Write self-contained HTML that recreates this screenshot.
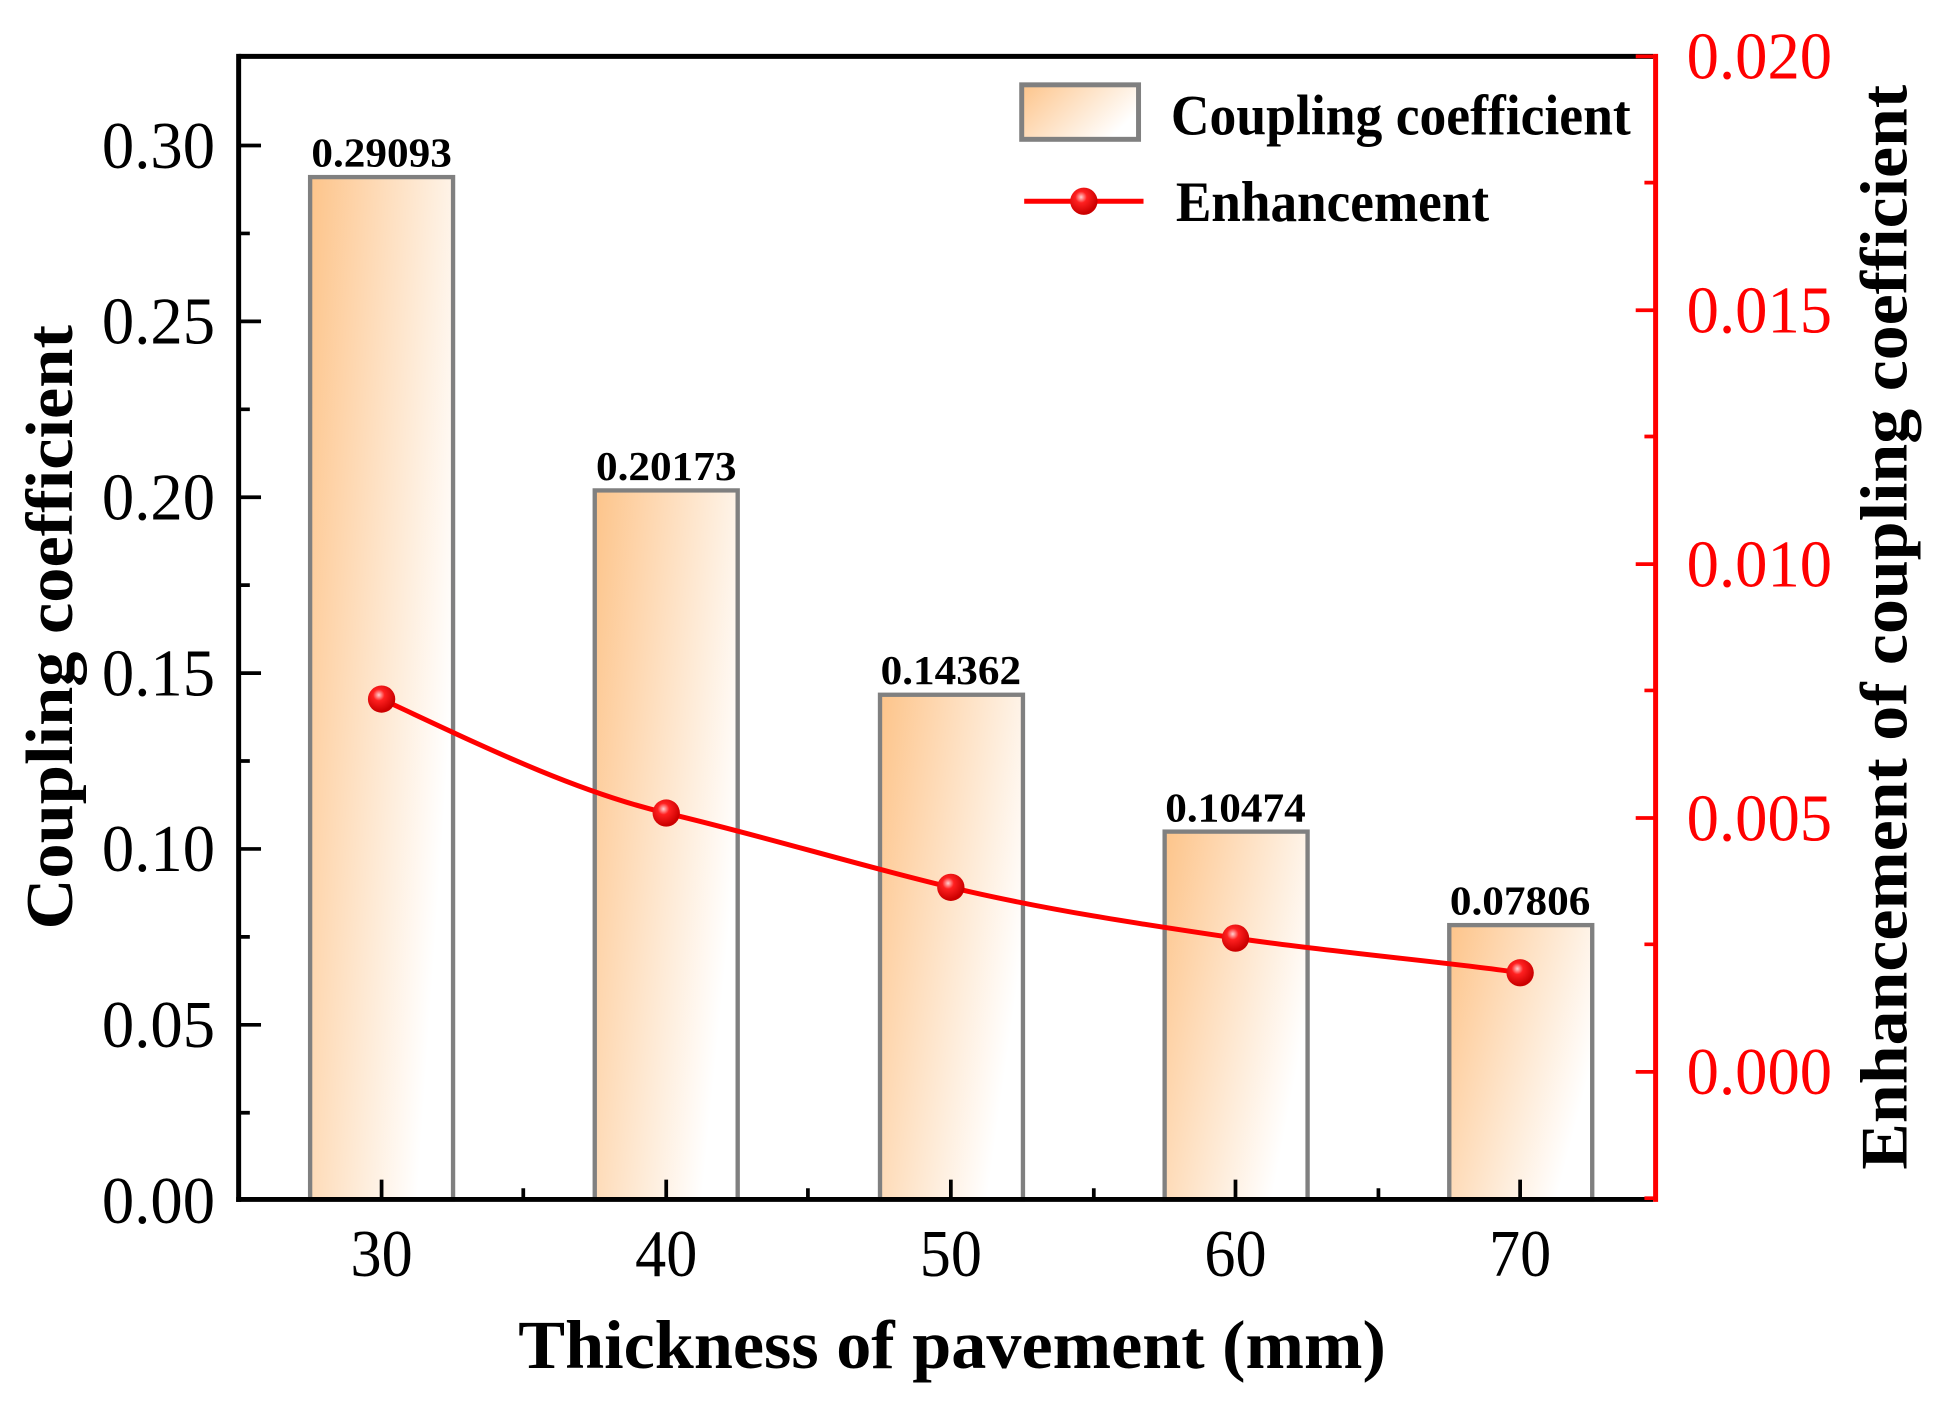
<!DOCTYPE html>
<html><head><meta charset="utf-8"><style>html,body{margin:0;padding:0;background:#fff}svg{display:block}</style></head>
<body>
<svg width="1939" height="1404" viewBox="0 0 1560 1129.6" preserveAspectRatio="none" xmlns="http://www.w3.org/2000/svg" font-family="'Liberation Serif', serif">
<defs>
<linearGradient id="g" x1="0" y1="0" x2="1" y2="0.5">
<stop offset="0" stop-color="#fdc48a"/><stop offset="1" stop-color="#ffffff"/>
</linearGradient>
<radialGradient id="m" cx="0.4" cy="0.35" r="0.6">
<stop offset="0" stop-color="#ffd0d0"/><stop offset="0.35" stop-color="#ff2020"/><stop offset="1" stop-color="#cc0000"/>
</radialGradient>
</defs>
<g transform="translate(0,-1.5) scale(1,0.9964)">
<g stroke="#808080" stroke-width="3.5" fill="url(#g)">
<rect x="249.5" y="144.5" width="115" height="825.5"/>
<rect x="478.5" y="397.5" width="115" height="572.5"/>
<rect x="708" y="562.5" width="115" height="407.5"/>
<rect x="937" y="673" width="115" height="297"/>
<rect x="1166" y="748.5" width="115" height="221.5"/>
</g>
<g font-weight="bold" font-size="33" text-anchor="middle">
<text x="307" y="136" textLength="113" lengthAdjust="spacingAndGlyphs">0.29093</text>
<text x="536" y="389" textLength="113" lengthAdjust="spacingAndGlyphs">0.20173</text>
<text x="765" y="554" textLength="113" lengthAdjust="spacingAndGlyphs">0.14362</text>
<text x="994" y="665" textLength="113" lengthAdjust="spacingAndGlyphs">0.10474</text>
<text x="1223" y="740" textLength="113" lengthAdjust="spacingAndGlyphs">0.07806</text>
</g>
<g stroke="#000" stroke-width="4" fill="none">
<line x1="192" y1="47" x2="1330" y2="47"/>
<line x1="192" y1="45" x2="192" y2="972"/>
<line x1="190" y1="970" x2="1330" y2="970"/>
</g>
<g stroke="#000" stroke-width="3">
<path d="M192 119h18M192 261h18M192 403h18M192 545h18M192 687h18M192 829h18M192 190h9M192 332h9M192 474h9M192 616h9M192 758h9M192 900h9"/>
<path d="M307 970v-16M536 970v-16M765 970v-16M994 970v-16M1223 970v-16M421 970v-9M650 970v-9M880 970v-9M1109 970v-9"/>
</g>
<g font-size="54" text-anchor="end">
<text x="173" y="137" textLength="91" lengthAdjust="spacingAndGlyphs">0.30</text><text x="173" y="279" textLength="91" lengthAdjust="spacingAndGlyphs">0.25</text><text x="173" y="421" textLength="91" lengthAdjust="spacingAndGlyphs">0.20</text>
<text x="173" y="563" textLength="91" lengthAdjust="spacingAndGlyphs">0.15</text><text x="173" y="705" textLength="91" lengthAdjust="spacingAndGlyphs">0.10</text><text x="173" y="847" textLength="91" lengthAdjust="spacingAndGlyphs">0.05</text><text x="173" y="989" textLength="91" lengthAdjust="spacingAndGlyphs">0.00</text>
</g>
<g font-size="54" text-anchor="middle">
<text x="307" y="1032" textLength="50" lengthAdjust="spacingAndGlyphs">30</text><text x="536" y="1032" textLength="50" lengthAdjust="spacingAndGlyphs">40</text><text x="765" y="1032" textLength="50" lengthAdjust="spacingAndGlyphs">50</text><text x="994" y="1032" textLength="50" lengthAdjust="spacingAndGlyphs">60</text><text x="1223" y="1032" textLength="50" lengthAdjust="spacingAndGlyphs">70</text>
</g>
<line x1="1332" y1="45" x2="1332" y2="972" stroke="#ff0000" stroke-width="4"/>
<g stroke="#ff0000" stroke-width="3">
<path d="M1332 47h-16M1332 252h-16M1332 457h-16M1332 662h-16M1332 867h-16M1332 149h-9M1332 354h-9M1332 559h-9M1332 764h-9M1332 969h-9"/>
</g>
<g font-size="54" fill="#ff0000">
<text x="1357" y="65" textLength="117" lengthAdjust="spacingAndGlyphs">0.020</text><text x="1357" y="270" textLength="117" lengthAdjust="spacingAndGlyphs">0.015</text><text x="1357" y="475" textLength="117" lengthAdjust="spacingAndGlyphs">0.010</text>
<text x="1357" y="680" textLength="117" lengthAdjust="spacingAndGlyphs">0.005</text><text x="1357" y="885" textLength="117" lengthAdjust="spacingAndGlyphs">0.000</text>
</g>
<path d="M307 566 C380 600,460 640,536 658 S690 700,765 718 S920 748,994 759 S1180 780,1223 787" fill="none" stroke="#ff0000" stroke-width="4"/>
<g fill="url(#m)">
<circle cx="307" cy="566" r="11"/><circle cx="536" cy="658" r="11"/><circle cx="765" cy="718" r="11"/>
<circle cx="994" cy="759" r="11"/><circle cx="1223" cy="787" r="11"/>
</g>
<rect x="822" y="70" width="94" height="44" fill="url(#g)" stroke="#808080" stroke-width="4"/>
<text x="942" y="110" font-size="46" font-weight="bold" textLength="370" lengthAdjust="spacingAndGlyphs">Coupling coefficient</text>
<line x1="824" y1="164" x2="920" y2="164" stroke="#ff0000" stroke-width="4"/>
<circle cx="872" cy="164" r="11" fill="url(#m)"/>
<text x="946" y="180" font-size="46" font-weight="bold" textLength="252" lengthAdjust="spacingAndGlyphs">Enhancement</text>
<text x="766" y="1106" font-size="56" font-weight="bold" text-anchor="middle" textLength="698" lengthAdjust="spacingAndGlyphs">Thickness of pavement (mm)</text>
<text transform="translate(58,508) rotate(-90)" font-size="54" font-weight="bold" text-anchor="middle" textLength="488" lengthAdjust="spacingAndGlyphs">Coupling coefficient</text>
<text transform="translate(1534,508) rotate(-90)" font-size="54" font-weight="bold" text-anchor="middle" textLength="876" lengthAdjust="spacingAndGlyphs">Enhancement of coupling coefficient</text>
</g>
</svg>
</body></html>
